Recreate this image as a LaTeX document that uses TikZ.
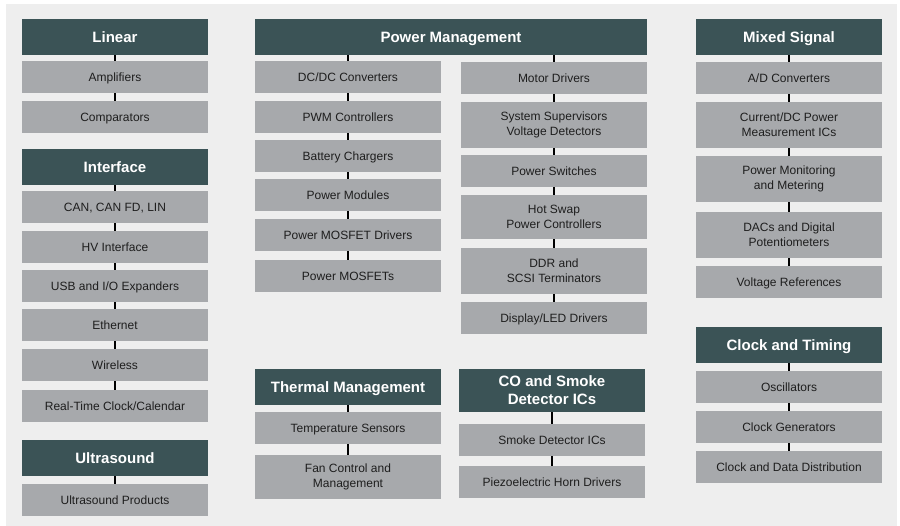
\documentclass[tikz,border=0pt]{standalone}
\usepackage{fontspec}
\setmainfont{Liberation Sans}
\definecolor{bgc}{HTML}{EEEEEE}
\definecolor{hdrc}{HTML}{3B5356}
\definecolor{itemc}{HTML}{A7A9AC}
\definecolor{txtc}{HTML}{1E1E1E}
\tikzset{
  hdr/.style={fill=hdrc, text=white, font=\fontsize{15}{18}\selectfont\bfseries, align=center, minimum width=186pt, minimum height=36pt, inner sep=0pt, text height=10.7pt, text depth=0pt},
  item/.style={fill=itemc, text=txtc, font=\fontsize{12}{15}\selectfont, align=center, minimum width=186pt, minimum height=32pt, inner sep=0pt, text height=8.6pt, text depth=0pt},
  multi/.style={text height={}, text depth={}},
  tall/.style={multi, minimum height=46pt},
  link/.style={draw=black, line width=1.2pt}
}
\begin{document}
\begin{tikzpicture}[x=1pt,y=-1pt]
\useasboundingbox (0,0) rectangle (900,526);
\fill[white] (0,0) rectangle (900,526);
\fill[bgc] (6,4) rectangle (897,526);
% Linear / Interface / Ultrasound
\node[hdr] (lin) at (115,37) {Linear};
\node[item] (amp) at (115,77) {Amplifiers};
\node[item] (comp) at (115,117) {Comparators};
\node[hdr] (intf) at (115,167) {Interface};
\node[item] (can) at (115,207) {CAN, CAN FD, LIN};
\node[item] (hv) at (115,247) {HV Interface};
\node[item] (usb) at (115,286) {USB and I/O Expanders};
\node[item] (eth) at (115,325) {Ethernet};
\node[item] (wir) at (115,365) {Wireless};
\node[item] (rtc) at (115,406) {Real-Time Clock/Calendar};
\node[hdr] (ult) at (115,458) {Ultrasound};
\node[item] (usp) at (115,500) {Ultrasound Products};
% Power Management
\node[hdr, minimum width=392pt] (pm) at (451,37) {Power Management};
\node[item] (dcdc) at (348,77) {DC/DC Converters};
\node[item] (pwm) at (348,117) {PWM Controllers};
\node[item] (bat) at (348,156) {Battery Chargers};
\node[item] (pmod) at (348,195) {Power Modules};
\node[item] (mdrv) at (348,235) {Power MOSFET Drivers};
\node[item] (mos) at (348,276) {Power MOSFETs};
\node[item] (mot) at (554,78) {Motor Drivers};
\node[item, tall] (sup) at (554,125) {System Supervisors\\Voltage Detectors};
\node[item] (psw) at (554,171) {Power Switches};
\node[item, multi, minimum height=44pt] (hot) at (554,217) {Hot Swap\\Power Controllers};
\node[item, tall] (ddr) at (554,271) {DDR and\\SCSI Terminators};
\node[item] (led) at (554,318) {Display/LED Drivers};
% Thermal
\node[hdr] (thm) at (348,387) {Thermal Management};
\node[item] (tmp) at (348,428) {Temperature Sensors};
\node[item, multi, minimum height=44pt] (fan) at (348,477) {Fan Control and\\Management};
% CO and Smoke
\node[hdr, multi, minimum height=43pt] (co) at (552,390.5) {CO and Smoke\\Detector ICs};
\node[item] (smk) at (552,440) {Smoke Detector ICs};
\node[item] (pz) at (552,482) {Piezoelectric Horn Drivers};
% Mixed Signal
\node[hdr] (mix) at (789,37) {Mixed Signal};
\node[item] (ad) at (789,78) {A/D Converters};
\node[item, tall] (cur) at (789,125) {Current/DC Power\\Measurement ICs};
\node[item, tall] (pmon) at (789,179) {Power Monitoring\\and Metering};
\node[item, tall] (dac) at (789,235) {DACs and Digital\\Potentiometers};
\node[item] (vref) at (789,282) {Voltage References};
% Clock and Timing
\node[hdr] (clk) at (789,345) {Clock and Timing};
\node[item] (osc) at (789,387) {Oscillators};
\node[item] (cgen) at (789,427) {Clock Generators};
\node[item] (cdd) at (789,467) {Clock and Data Distribution};
% connectors
\foreach \a/\b in {lin/amp, amp/comp, intf/can, can/hv, hv/usb, usb/eth, eth/wir, wir/rtc, ult/usp,
  dcdc/pwm, pwm/bat, bat/pmod, pmod/mdrv, mdrv/mos,
  mot/sup, sup/psw, psw/hot, hot/ddr, ddr/led,
  thm/tmp, tmp/fan, co/smk, smk/pz,
  mix/ad, ad/cur, cur/pmon, pmon/dac, dac/vref,
  clk/osc, osc/cgen, cgen/cdd}
  \draw[link] (\a.south) -- (\b.north);
\draw[link] (pm.south -| dcdc.north) -- (dcdc.north);
\draw[link] (pm.south -| mot.north) -- (mot.north);
\end{tikzpicture}
\end{document}
